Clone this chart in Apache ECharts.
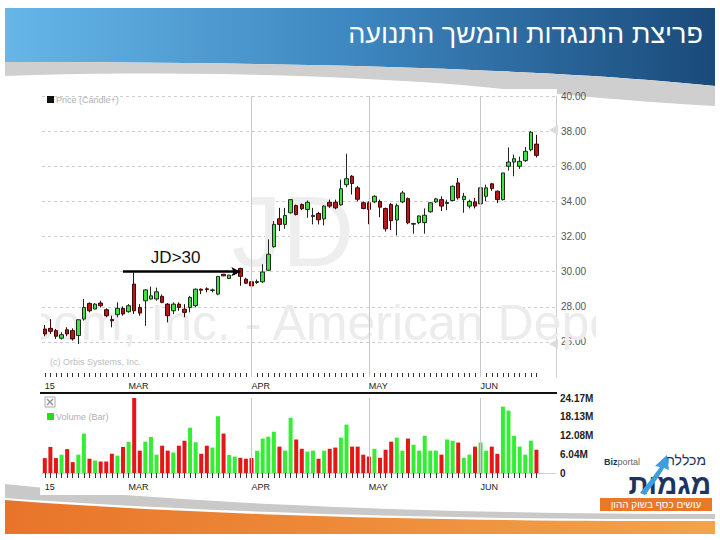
<!DOCTYPE html>
<html><head><meta charset="utf-8">
<script src="https://cdn.jsdelivr.net/npm/echarts@6/dist/echarts.min.js"></script>
<style>html,body{margin:0;padding:0;background:#fff}#c{width:720px;height:540px}</style>
</head><body><div id="c"></div>
<script>
// ---- data ----
const dates = ['02-06','02-09','02-10','02-11','02-12','02-13','02-17','02-18','02-19','02-20','02-23','02-24','02-25','02-26','02-27',
'03-02','03-03','03-04','03-05','03-06','03-09','03-10','03-11','03-12','03-13','03-16','03-17','03-18','03-19','03-20','03-23','03-24','03-25','03-26','03-27','03-30','03-31',
'04-01','04-02','04-06','04-07','04-08','04-09','04-10','04-13','04-14','04-15','04-16','04-17','04-20','04-21','04-22','04-23','04-24','04-27','04-28','04-29','04-30',
'05-01','05-04','05-05','05-06','05-07','05-08','05-11','05-12','05-13','05-14','05-15','05-18','05-19','05-20','05-21','05-22','05-26','05-27','05-28','05-29',
'06-01','06-02','06-03','06-04','06-05','06-08','06-09','06-10','06-11','06-12','06-15'];
const opens = [26.73,26.77,26.64,26.21,26.69,26.64,26.36,27.30,28.19,27.87, 28.21,27.83,27.28,27.55,27.91,27.72,29.29,27.96,28.34,28.44,
 28.44,28.59,28.15,27.77,28.15,27.86,27.96,28.06,29.00,29.02, 28.92,28.72,29.85,29.61,29.88,30.18,29.57,29.42,29.38,29.42,
 30.08,31.42,33.01,32.69,33.35,33.76,33.82,33.54,33.14,33.31, 33.00,33.95,33.95,33.80,34.95,35.43,34.77,33.92,33.92,33.97,
 34.00,33.59,33.82,32.94,33.97,34.16,32.70,32.79,32.79,33.41, 33.97,34.10,33.88,34.05,35.05,34.10,33.73,33.97,33.86,34.29,
 35.00,34.58,34.10,36.00,36.24,36.00,36.32,36.94,37.26];
const closes = [26.45,26.60,26.32,26.41,26.45,26.17,27.26,27.96,27.77,28.15, 28.06,27.49,27.20,27.91,27.59,28.06,27.77,27.64,28.96,28.62,
 28.85,28.25,27.49,28.15,27.96,27.68,28.53,29.00,28.94,28.98, 28.96,29.72,29.76,29.80,29.95,29.73,29.34,29.19,29.44,29.98,
 30.99,32.69,32.69,33.20,34.10,33.25,33.58,33.95,33.20,32.95, 33.73,33.73,33.63,34.72,35.29,35.02,34.12,33.59,33.54,34.29,
 33.67,32.44,32.90,33.76,34.48,32.78,32.74,33.17,33.21,33.92, 34.14,33.73,33.94,34.86,34.20,34.29,34.00,33.73,34.77,34.77,
 34.73,34.10,35.62,36.24,36.43,36.28,36.85,37.94,36.62];
const lows = [26.32,26.45,26.17,26.13,26.32,26.07,25.88,27.21,27.68,27.85, 27.96,27.40,26.83,27.40,27.49,27.66,27.59,27.49,26.92,28.40,
 28.34,28.20,27.11,27.58,27.77,27.40,27.68,27.96,28.72,28.82, 28.82,28.66,29.74,29.58,29.80,29.19,29.30,29.00,29.30,29.35,
 30.04,31.36,32.31,32.44,33.31,33.20,33.50,33.07,32.69,32.69, 32.63,33.63,33.55,33.75,34.80,34.39,34.00,33.55,32.70,33.90,
 33.10,32.29,32.37,32.06,33.90,32.70,32.16,32.70,32.16,33.35, 33.90,33.45,33.50,34.00,34.10,33.35,33.60,33.60,33.80,34.00,
 34.60,33.90,34.05,35.75,35.43,35.85,36.25,36.85,36.50];
const highs = [26.96,27.30,26.73,26.55,26.83,26.77,27.26,28.44,28.25,28.21, 28.34,27.91,27.49,28.25,28.02,28.15,29.95,28.15,29.00,29.15,
 29.09,28.70,28.21,28.25,28.25,28.15,28.62,29.04,29.04,29.10, 29.04,29.76,29.87,29.82,30.00,30.22,29.65,29.61,29.55,30.42,
 31.84,32.88,33.63,33.63,34.10,33.82,33.88,34.05,33.63,33.40, 33.78,34.10,34.10,35.24,36.71,35.50,34.88,34.00,34.00,34.35,
 34.10,33.65,33.90,33.88,34.60,34.22,32.78,33.20,33.60,33.95, 34.20,34.29,34.10,34.90,35.33,34.48,34.10,34.20,34.95,34.95,
 35.05,34.62,35.62,37.07,36.66,36.55,37.10,38.00,37.79];
// volume in millions
const volumes = [4.8,8.4,4.8,5.9,7.7,3.5,5.9,12.7,4.6,4.0, 3.7,3.7,6.2,5.6,8.4,10.1,24.3,7.2,10.1,11.6,
 5.9,8.8,7.2,6.6,8.8,10.4,14.6,9.9,6.2,8.8, 8.2,18.3,12.7,5.8,5.3,4.9,4.6,4.8,7.2,11.1,
 11.7,13.3,8.5,7.2,17.8,10.8,7.8,6.9,7.2,4.6, 7.2,7.8,8.2,11.4,15.6,8.5,8.5,5.9,5.3,7.8,
 4.9,7.5,10.1,11.4,7.2,11.1,9.1,7.2,12.0,7.2, 7.2,5.9,10.8,10.4,9.8,4.9,5.9,8.5,9.8,7.2,
 8.5,6.2,21.4,20.1,12.0,8.5,5.9,10.4,7.5];
const priceMin = 24, priceMax = 40, priceStep = 2;
const volMax = 24.17, volStep = 6.0425;
const volTickLabels = ['0','6.04M','12.08M','18.13M','24.17M'];
const axisMarkIdx = [0,15,37,58,78];
const axisMarkText = ['15','MAR','APR','MAY','JUN'];
const monthLineIdx = [37,58,78];
const resistanceLevel = 30, arrowFromIdx = 14, arrowToIdx = 35;
const resistanceLabel = 'JD>30';
const titleText = 'פריצת התנגדות והמשך התנועה';

// ---- build ----
const PAD = 3;
const cats = dates.concat(Array(PAD).fill(''));
const N = dates.length;
const FONT = '"Liberation Sans", "DejaVu Sans", Arial, sans-serif';
const UPC = '#3ee23e', DNC = '#b3181a';
const VUP = '#33ee33', VDN = '#e41616';
const candleData = dates.map((d,i)=>[opens[i],closes[i],lows[i],highs[i]]);
const volData = volumes.map((v,i)=>({value:v, itemStyle:{color: closes[i]>=opens[i]?VUP:VDN}}));
const labelFor = i => { const k = axisMarkIdx.indexOf(i); return k<0 ? '' : axisMarkText[k]; };
const monthLines = monthLineIdx.map(i=>({xAxis: dates[i]}));
const F = (size, weight) => (weight?weight+' ':'') + size + 'px ' + FONT;

function bez(p0,p1,p2,p3,n){ const out=[]; for(let k=0;k<=n;k++){const t=k/n,u=1-t;
  out.push([u*u*u*p0[0]+3*u*u*t*p1[0]+3*u*t*t*p2[0]+t*t*t*p3[0], u*u*u*p0[1]+3*u*u*t*p1[1]+3*u*t*t*p2[1]+t*t*t*p3[1]]);} return out; }
const headerPts = [[5,8],[715,8]].concat(bez([715,86],[560,70],[320,62],[5,62],30));
const topSwoosh = bez([5,62],[320,62],[560,70],[715,86],30).concat([[715,106]], bez([715,106],[620,101],[540,92],[450,84],15), bez([450,84],[330,75],[150,70],[5,76],15));
const botGray = bez([5,484],[200,505],[450,514],[715,514],30).concat(bez([715,519],[450,520],[200,512],[5,498],30));
const botOrange = bez([5,500],[200,515],[450,522],[715,521],30).concat([[715,534],[5,534]]);
const arrowPts = bez([640,493],[648,483],[655,474],[660,467],8).concat([[655,466],[667,455],[669,470],[664,468]], bez([664,468],[659,477],[652,486],[645,495],8));

const chart = echarts.init(document.getElementById('c'), null, {renderer:'svg', width:720, height:540});
const xCommon = {
  type:'category', data: cats, boundaryGap:true,
  axisLabel:{interval:(i)=>axisMarkIdx.indexOf(i)>=0, formatter:(v,i)=>labelFor(i), align:'left',
    fontSize:9, color:'#222', fontFamily:FONT},
  splitLine:{show:false}
};
chart.setOption({
  animation:false,
  backgroundColor:'#fff',
  grid:[
    {left:42, width:514, top:96, height:281, outerBoundsMode:'none'},
    {left:42, width:514, top:398, height:75, outerBoundsMode:'none'}
  ],
  xAxis:[
    Object.assign({}, xCommon, {gridIndex:0, axisLine:{show:false},
      axisTick:{show:true, inside:true, length:4, alignWithLabel:true, interval:(i)=>i<N, lineStyle:{color:'#333'}},
      axisLabel:Object.assign({}, xCommon.axisLabel, {margin:4})}),
    Object.assign({}, xCommon, {gridIndex:1, axisLine:{show:true, lineStyle:{color:'#cfcfcf'}},
      axisTick:{show:true, length:5, alignWithLabel:true, interval:(i)=>i<N, lineStyle:{color:'#333'}},
      axisLabel:Object.assign({}, xCommon.axisLabel, {margin:9})})
  ],
  yAxis:[
    {type:'value', gridIndex:0, position:'right', min:priceMin, max:priceMax, interval:priceStep,
     axisLine:{show:true, lineStyle:{color:'#cfcfcf'}}, axisTick:{show:false},
     splitLine:{show:true, showMinLine:false, lineStyle:{color:'#cdcdcd', type:[3,3], width:1}},
     axisLabel:{showMinLabel:false, formatter:v=>v.toFixed(2), fontSize:10, color:'#555', fontFamily:FONT, margin:5}},
    {type:'value', gridIndex:1, position:'right', min:0, max:volMax, interval:volStep,
     axisLine:{show:false}, axisTick:{show:false}, splitLine:{show:false},
     axisLabel:{formatter:v=>volTickLabels[Math.round(v/volStep)], fontSize:10, fontWeight:'bold', color:'#222', fontFamily:FONT, margin:4}}
  ],
  series:[
    {type:'candlestick', xAxisIndex:0, yAxisIndex:0, data:candleData, barWidth:4,
     itemStyle:{color:UPC, color0:DNC, borderColor:'#1e2a1e', borderColor0:'#3a0808', borderWidth:1},
     markLine:{silent:true, symbol:['none','none'], animation:false,
       label:{show:false}, lineStyle:{color:'#c8c8c8', type:'solid', width:1},
       data: monthLines.concat([[
         {coord:[dates[arrowFromIdx], resistanceLevel], symbol:'none',
          lineStyle:{color:'#000', type:'solid', width:2.5},
          label:{show:true, formatter:resistanceLabel, position:'insideMiddleTop', distance:6, offset:[-6,0], fontSize:17, color:'#111', fontFamily:FONT}},
         {coord:[dates[arrowToIdx], resistanceLevel], symbol:'arrow', symbolSize:[7,9],
          lineStyle:{color:'#000', type:'solid', width:2.5}}
       ]])}},
    {type:'bar', xAxisIndex:1, yAxisIndex:1, data:volData, barWidth:4,
     markLine:{silent:true, symbol:['none','none'], animation:false, label:{show:false},
       lineStyle:{color:'#c8c8c8', type:'solid', width:1}, data: monthLines}}
  ],
  graphic:[
    {type:'polygon', z:-3, shape:{points:headerPts},
     style:{fill:{type:'linear',x:0,y:0,x2:1,y2:0,colorStops:[{offset:0,color:'#66b6e8'},{offset:0.5,color:'#3d86bf'},{offset:1,color:'#1a4a7a'}]}}},
    {type:'polygon', z:-3, shape:{points:topSwoosh}, style:{fill:'#cfcfcf'}},
    {type:'text', z:-2, style:{text:titleText, x:703, y:34, textAlign:'right', textVerticalAlign:'middle', fill:'#fff', font:F(27)}},
    {type:'polygon', z:-3, shape:{points:botGray}, style:{fill:'#c9c9c9'}},
    {type:'polygon', z:-3, shape:{points:botOrange},
     style:{fill:{type:'linear',x:0,y:0,x2:1,y2:0,colorStops:[{offset:0,color:'#e8742a'},{offset:1,color:'#f2a44c'}]}}},
    {type:'rect', z:-1, shape:{x:40,y:89,width:517,height:406}, style:{fill:'#fff'}},
    {type:'text', z:1, style:{text:'JD', x:232, y:281, textVerticalAlign:'bottom', fill:'#eeeeee', font:F(100)}},
    {type:'text', z:1, style:{text:'JD.com, Inc. - American Depositary Shares', x:-47, y:348, textVerticalAlign:'bottom', fill:'#ececec', font:F(50)}},
    {type:'rect', z:1.5, shape:{x:0,y:290,width:41,height:65}, style:{fill:'#fff'}},
    {type:'rect', z:1.5, shape:{x:596,y:290,width:124,height:65}, style:{fill:'#fff'}},
    {type:'rect', z:3, shape:{x:47,y:96,width:7,height:7}, style:{fill:'#111'}},
    {type:'text', z:3, style:{text:'Price (Candle+)', x:56, y:99.5, textVerticalAlign:'middle', fill:'#b0b0b0', font:F(9)}},
    {type:'text', z:3, style:{text:'(c) Orbis Systems, Inc.', x:50, y:362, textVerticalAlign:'middle', fill:'#bdbdbd', font:F(9)}},
    {type:'rect', z:3, shape:{x:45,y:397,width:10,height:10}, style:{fill:'#fff', stroke:'#aaa', lineWidth:1}},
    {type:'polyline', z:3, shape:{points:[[47,399],[53,405]]}, style:{stroke:'#999', lineWidth:1.5}},
    {type:'polyline', z:3, shape:{points:[[53,399],[47,405]]}, style:{stroke:'#999', lineWidth:1.5}},
    {type:'rect', z:3, shape:{x:47,y:413,width:7,height:7}, style:{fill:'#22dd22'}},
    {type:'text', z:3, style:{text:'Volume (Bar)', x:56, y:416.5, textVerticalAlign:'middle', fill:'#b0b0b0', font:F(9)}},
    {type:'rect', z:3, shape:{x:40,y:392,width:517,height:2}, style:{fill:'#111'}},
    {type:'polygon', z:3, shape:{points:[[549,130],[558,125],[558,135]]}, style:{fill:'#dcdcdc'}},
    {type:'polygon', z:3, shape:{points:[[549,344],[558,339],[558,349]]}, style:{fill:'#dcdcdc'}},
    {type:'text', z:3, style:{text:'מכללת', x:706, y:460, textAlign:'right', textVerticalAlign:'middle', fill:'#1d3461', font:F(14)}},
    {type:'text', z:3, style:{text:'{a|Biz}{b|portal}', x:604, y:462, textVerticalAlign:'middle',
      rich:{a:{fontWeight:'bold', fontSize:9, fill:'#1d3461', fontFamily:FONT}, b:{fontSize:9, fill:'#666', fontFamily:FONT}}}},
    {type:'text', z:3, style:{text:'מגמות', x:711, y:484, textAlign:'right', textVerticalAlign:'middle', fill:'#1d3461', font:F(28,'bold')}},
    {type:'polygon', z:4, shape:{points:arrowPts}, style:{fill:'#3f9ddc'}},
    {type:'rect', z:3, shape:{x:600,y:498,width:112,height:13}, style:{fill:'#e8782a'}},
    {type:'text', z:4, style:{text:'עושים כסף בשוק ההון', x:656, y:504.5, textAlign:'center', textVerticalAlign:'middle', fill:'#fff', font:F(10)}}
  ]
});
</script></body></html>
